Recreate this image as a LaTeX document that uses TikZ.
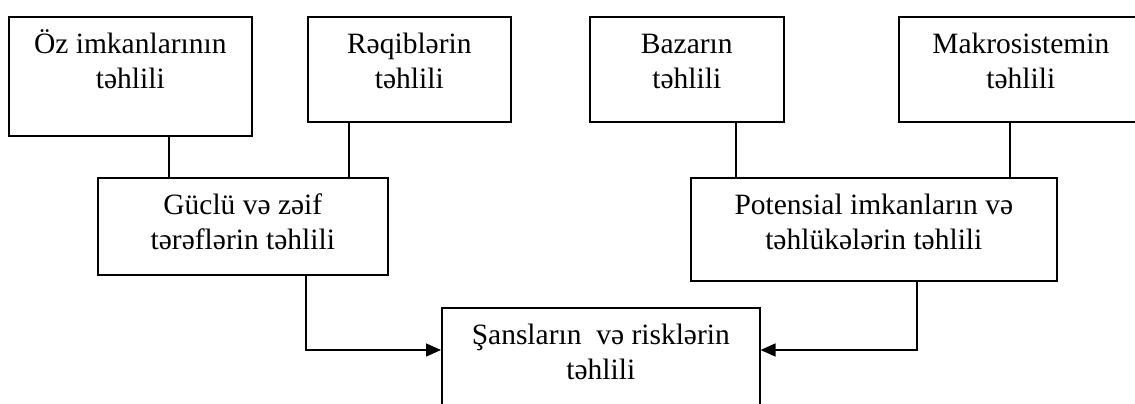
\documentclass[tikz,border=0pt]{standalone}
\usepackage{fontspec}
\setmainfont{Liberation Serif}
\usepackage{xcolor}
\usepackage{tikz}
\usetikzlibrary{arrows.meta}
\definecolor{ink}{HTML}{000000}
\tikzset{
  box/.style={draw=ink, line width=1.6pt, align=center, inner sep=0pt, anchor=north west,
    font=\fontsize{29.5}{35}\selectfont},
  link/.style={draw=ink, line width=1.6pt},
  arr/.style={link, -{Triangle[length=15pt,width=13pt]}},
}

\begin{document}
\begin{tikzpicture}[x=1pt,y=-1pt]
  \useasboundingbox (0,0) rectangle (1135,404);
  \clip (0,0) rectangle (1135,404);
  % lanes of the connectors
  \coordinate (ozx) at (169,0);
  \coordinate (reqx) at (349,0);
  \coordinate (bazx) at (736,0);
  \coordinate (makx) at (1010,0);
  \coordinate (gucx) at (306,350);
  \coordinate (potx) at (917,350);

  \node[box, minimum width=243, text height=72, text depth=47] (oz) at (8,16) {Öz imkanlarının\\təhlili};
  \node[box, minimum width=203, text height=72, text depth=33] (reqib) at (307,16) {Rəqiblərin\\təhlili};
  \node[box, minimum width=194, text height=72, text depth=33] (bazar) at (589,16) {Bazarın\\təhlili};
  \node[box, minimum width=244, text height=72, text depth=33] (makro) at (898,16) {Makrosistemin\\təhlili};

  \node[box, minimum width=290, text height=72, text depth=25] (guclu) at (97,177) {Güclü və zəif\\tərəflərin təhlili};
  \node[box, minimum width=366, text height=72, text depth=31] (potens) at (690,177) {Potensial imkanların və\\təhlükələrin təhlili};
  \node[box, minimum width=318, text height=72, text depth=60] (sans) at (441,307) {Şansların~ və risklərin\\təhlili};

  \draw[link] (oz.south -| ozx) -- (guclu.north -| ozx);
  \draw[link] (reqib.south -| reqx) -- (guclu.north -| reqx);
  \draw[link] (bazar.south -| bazx) -- (potens.north -| bazx);
  \draw[link] (makro.south -| makx) -- (potens.north -| makx);

  \draw[arr] (guclu.south -| gucx) |- (sans.west |- gucx);
  \draw[arr] (potens.south -| potx) |- (sans.east |- potx);
\end{tikzpicture}
\end{document}
